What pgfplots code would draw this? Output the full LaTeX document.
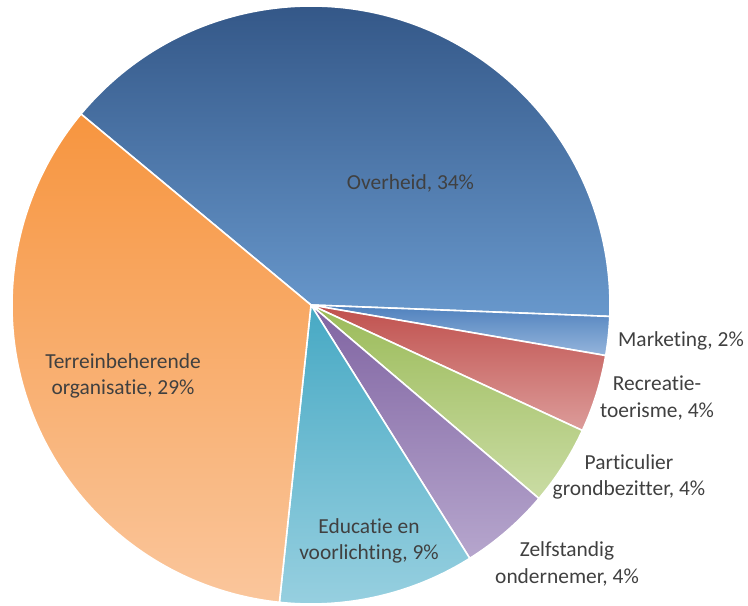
\documentclass[border=0pt]{standalone}
\usepackage{pgfplots}
\pgfplotsset{compat=1.18}
\usepackage{fontspec}
\setmainfont[Ligatures=NoCommon]{Carlito}
\definecolor{txt}{HTML}{404040}
\definecolor{ovA}{HTML}{2E5080}\definecolor{ovB}{HTML}{6898CC}
\definecolor{mkA}{HTML}{4F81BD}\definecolor{mkB}{HTML}{95B5DC}
\definecolor{reA}{HTML}{C0504D}\definecolor{reB}{HTML}{DC9C9A}
\definecolor{paA}{HTML}{9BBB59}\definecolor{paB}{HTML}{CADCA4}
\definecolor{zeA}{HTML}{8064A2}\definecolor{zeB}{HTML}{B6A6CD}
\definecolor{edA}{HTML}{47A9C4}\definecolor{edB}{HTML}{98D0E0}
\definecolor{teA}{HTML}{F7953F}\definecolor{teB}{HTML}{FAC69C}
% data (relative shares)
\def\vOv{34}\def\vMk{1.8}\def\vRe{3.6}\def\vPa{3.7}\def\vZe{4.2}\def\vEd{9.1}\def\vTe{29.5}
\pgfmathsetmacro{\tot}{\vOv+\vMk+\vRe+\vPa+\vZe+\vEd+\vTe}
\pgfmathsetmacro{\aA}{140.3}
\pgfmathsetmacro{\aB}{\aA-\vOv/\tot*360}
\pgfmathsetmacro{\aC}{\aB-\vMk/\tot*360}
\pgfmathsetmacro{\aD}{\aC-\vRe/\tot*360}
\pgfmathsetmacro{\aE}{\aD-\vPa/\tot*360}
\pgfmathsetmacro{\aF}{\aE-\vZe/\tot*360}
\pgfmathsetmacro{\aG}{\aF-\vEd/\tot*360}
\pgfmathsetmacro{\aH}{\aG-\vTe/\tot*360}
\def\cx{311}\def\cy{301}\def\R{299}
\newcommand{\slice}[4]{%
  \shade[top color=#3,bottom color=#4,draw=white,line width=1.6bp,line join=round]
  (axis cs:\cx,\cy) -- (axis cs:{\cx+\R*cos(#1)},{\cy+\R*sin(#1)})
  arc[start angle=#1,end angle=#2,radius=\R bp] -- cycle;}
\tikzset{lbl/.style={font=\fontsize{21.5}{26.5}\selectfont, text=txt, align=center, inner sep=0pt}}
\begin{document}
\begin{tikzpicture}
\begin{axis}[
  width=748bp, height=606bp, scale only axis,
  xmin=0, xmax=748, ymin=0, ymax=606,
  enlargelimits=false, hide axis, clip=false,
]
\slice{\aA}{\aB}{ovA}{ovB}
\slice{\aB}{\aC}{mkA}{mkB}
\slice{\aC}{\aD}{reA}{reB}
\slice{\aD}{\aE}{paA}{paB}
\slice{\aE}{\aF}{zeA}{zeB}
\slice{\aF}{\aG}{edA}{edB}
\slice{\aG}{\aH}{teA}{teB}
\node[lbl] at (axis cs:410.5,423) {Overheid, 34\%};
\node[lbl] at (axis cs:123,230) {Terreinbeherende\\organisatie, 29\%};
\node[lbl] at (axis cs:369,65) {Educatie en\\voorlichting, 9\%};
\node[lbl] at (axis cs:567,42) {Zelfstandig\\ondernemer, 4\%};
\node[lbl] at (axis cs:629,129) {Particulier\\grondbezitter, 4\%};
\node[lbl] at (axis cs:657,208) {Recreatie-\\toerisme, 4\%};
\node[lbl] at (axis cs:681,265) {Marketing, 2\%};
\coordinate (ll) at (axis cs:0,0);
\coordinate (ur) at (axis cs:748,606);
\end{axis}
\pgfresetboundingbox
\useasboundingbox (ll) rectangle (ur);
\end{tikzpicture}
\end{document}
